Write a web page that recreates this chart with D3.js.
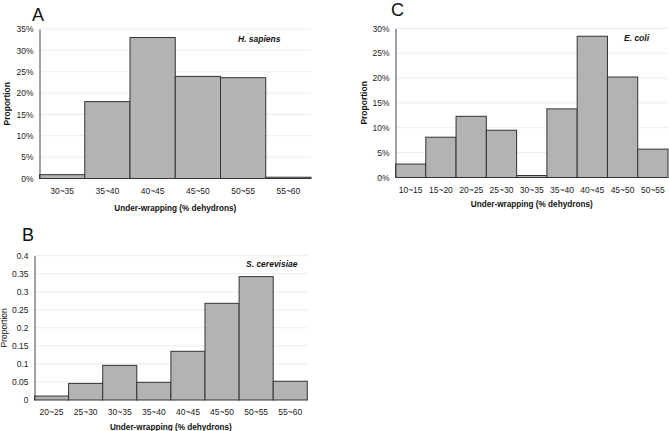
<!DOCTYPE html>
<html>
<head>
<meta charset="utf-8">
<script src="https://cdn.jsdelivr.net/npm/d3@7"></script>
<style>
  body { margin: 0; background: #fff; }
  svg { display: block; font-family: "Liberation Sans", Arial, sans-serif; }
</style>
</head>
<body>
<svg id="chart" width="669" height="431"></svg>
<script>
// bins and proportions
const binsA = ["30~35", "35~40", "40~45", "45~50", "50~55", "55~60"];
const valuesA = [0.009, 0.180, 0.330, 0.239, 0.236, 0.003];
const ticksA = [0, 0.05, 0.10, 0.15, 0.20, 0.25, 0.30, 0.35];

const binsB = ["20~25", "25~30", "30~35", "35~40", "40~45", "45~50", "50~55", "55~60"];
const valuesB = [0.011, 0.046, 0.096, 0.049, 0.135, 0.268, 0.342, 0.052];
const ticksB = [0, 0.05, 0.1, 0.15, 0.2, 0.25, 0.3, 0.35, 0.4];

const binsC = ["10~15", "15~20", "20~25", "25~30", "30~35", "35~40", "40~45", "45~50", "50~55"];
const valuesC = [0.027, 0.081, 0.123, 0.095, 0.004, 0.138, 0.284, 0.202, 0.057];
const ticksC = [0, 0.05, 0.10, 0.15, 0.20, 0.25, 0.30];

const svg = d3.select('#chart');

function drawPanel(opt) {
  const g = svg.append('g');
  const x = d3.scaleBand().domain(opt.bins).range([opt.left, opt.right]).padding(0);
  const y = d3.scaleLinear().domain([0, opt.max]).range([opt.bottom, opt.top]);

  // faint gridlines
  g.selectAll('line.grid').data(opt.ticks.slice(1)).enter().append('line')
    .attr('x1', opt.left).attr('x2', opt.right)
    .attr('y1', d => y(d)).attr('y2', d => y(d))
    .attr('stroke', '#ececec').attr('stroke-width', 1);

  g.selectAll('rect').data(opt.values).enter().append('rect')
    .attr('x', (d, i) => x(opt.bins[i]))
    .attr('y', d => y(d))
    .attr('width', x.bandwidth())
    .attr('height', d => opt.bottom - y(d))
    .attr('fill', '#b3b3b3')
    .attr('stroke', '#333')
    .attr('stroke-width', 1);

  const yAxis = d3.axisLeft(y).tickValues(opt.ticks).tickSize(0).tickPadding(6).tickFormat(opt.fmt);
  const ya = g.append('g').attr('transform', `translate(${opt.left},0)`).call(yAxis);
  ya.select('.domain').attr('stroke', '#444');
  ya.selectAll('text').attr('font-size', 8.5).attr('fill', '#222').attr('font-family', 'Liberation Sans, Arial');

  const xAxis = d3.axisBottom(x).tickSize(0).tickPadding(9);
  const xa = g.append('g').attr('transform', `translate(0,${opt.bottom})`).call(xAxis);
  xa.select('.domain').remove();
  xa.selectAll('text').attr('font-size', 8.5).attr('fill', '#222').attr('font-family', 'Liberation Sans, Arial');

  g.append('text')
    .attr('x', (opt.left + opt.right) / 2).attr('y', opt.bottom + opt.titleDy)
    .attr('text-anchor', 'middle').attr('font-size', 8.2).attr('font-weight', 'bold')
    .attr('fill', '#111')
    .text('Under-wrapping (% dehydrons)');

  g.append('text')
    .attr('transform', `translate(${opt.propX},${(opt.top + opt.bottom) / 2}) rotate(-90)`)
    .attr('text-anchor', 'middle').attr('dy', '0.35em').attr('font-size', 8.5)
    .attr('font-weight', opt.propBold ? 'bold' : 'normal')
    .attr('fill', '#111')
    .text('Proportion');

  g.append('text')
    .attr('x', opt.speciesX).attr('y', opt.speciesY)
    .attr('font-size', 8.5).attr('font-weight', 'bold').attr('font-style', 'italic')
    .attr('fill', '#111')
    .text(opt.species);

  g.append('text')
    .attr('x', opt.letterX).attr('y', opt.letterY)
    .attr('font-size', 18).attr('fill', '#111')
    .text(opt.letter);
}

const pct = d => Math.round(d * 100) + '%';

drawPanel({
  bins: binsA, values: valuesA, ticks: ticksA, max: 0.35, fmt: pct,
  left: 39.5, right: 311, top: 29, bottom: 178.5,
  titleDy: 32, propX: 7, propBold: true,
  species: 'H. sapiens', speciesX: 238, speciesY: 42,
  letter: 'A', letterX: 32, letterY: 21
});

drawPanel({
  bins: binsC, values: valuesC, ticks: ticksC, max: 0.30, fmt: pct,
  left: 395.5, right: 668, top: 28.3, bottom: 177.5,
  titleDy: 29, propX: 364, propBold: true,
  species: 'E. coli', speciesX: 624, speciesY: 41,
  letter: 'C', letterX: 391, letterY: 16
});

drawPanel({
  bins: binsB, values: valuesB, ticks: ticksB, max: 0.4, fmt: d => d3.format('~g')(d),
  left: 34.5, right: 307.3, top: 255.7, bottom: 400,
  titleDy: 29.5, propX: 4, propBold: false,
  species: 'S. cerevisiae', speciesX: 246, speciesY: 267,
  letter: 'B', letterX: 22, letterY: 241
});
</script>
</body>
</html>
